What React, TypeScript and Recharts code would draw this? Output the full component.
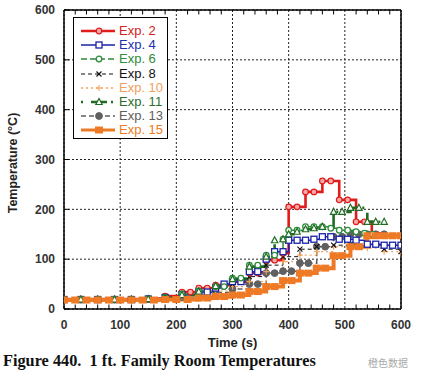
import { LineChart, Line, XAxis, YAxis, CartesianGrid, ReferenceLine, Legend } from 'recharts';

// step curves, time in s, temperature in °C
const exp2Time = [0, 30, 60, 90, 120, 150, 180, 210, 225, 240, 255, 270, 285, 300, 315, 330, 345, 360, 375, 390, 400, 415, 430, 445, 460, 475, 490, 505, 520, 535, 548, 560];
const exp2Temp = [20, 20, 20, 20, 20, 21, 26, 34, 34, 42, 42, 48, 48, 55, 55, 72, 72, 98, 98, 112, 205, 205, 235, 235, 257, 257, 219, 219, 175, 175, 148, 148];

const exp4Time = [0, 30, 60, 90, 120, 150, 180, 210, 240, 255, 270, 285, 300, 315, 330, 345, 360, 375, 390, 400, 415, 430, 445, 460, 475, 490, 505, 520, 540, 555, 570, 585, 600];
const exp4Temp = [19, 19, 19, 19, 19, 20, 23, 29, 34, 34, 42, 50, 55, 55, 75, 75, 100, 115, 115, 138, 138, 138, 140, 145, 145, 140, 140, 138, 130, 130, 128, 128, 128];

const exp6Time = [0, 30, 60, 90, 120, 150, 180, 210, 240, 270, 285, 300, 315, 330, 345, 360, 375, 390, 400, 415, 430, 445, 460, 475, 490, 505, 520, 535, 550];
const exp6Temp = [19, 19, 19, 19, 19, 20, 23, 30, 36, 45, 45, 62, 62, 88, 88, 108, 108, 140, 158, 158, 165, 165, 165, 162, 158, 158, 155, 152, 150];

const exp8Time = [0, 30, 60, 90, 120, 150, 180, 210, 240, 270, 300, 330, 360, 390, 420, 450, 480, 510, 540, 570, 600];
const exp8Temp = [19, 19, 19, 19, 19, 20, 22, 28, 33, 40, 50, 65, 88, 105, 120, 125, 128, 130, 128, 120, 115];

const exp10Time = [0, 30, 60, 90, 120, 150, 180, 210, 240, 270, 300, 330, 360, 390, 420, 450, 480, 510, 540, 570, 600];
const exp10Temp = [19, 19, 19, 19, 19, 20, 21, 25, 30, 36, 45, 55, 75, 95, 108, 115, 125, 125, 122, 115, 112];

const exp11Time = [0, 30, 60, 90, 120, 150, 180, 210, 240, 270, 300, 330, 360, 375, 390, 400, 415, 430, 445, 460, 480, 495, 510, 525, 540, 555, 570];
const exp11Temp = [19, 19, 19, 19, 19, 20, 22, 28, 35, 46, 60, 85, 105, 138, 140, 150, 155, 160, 162, 165, 195, 195, 203, 203, 175, 175, 175];

const exp13Time = [0, 30, 60, 90, 120, 150, 180, 210, 240, 270, 300, 330, 345, 360, 375, 390, 405, 420, 435, 450, 465, 480, 495, 510, 525, 540, 555, 570];
const exp13Temp = [19, 19, 19, 19, 19, 20, 21, 24, 28, 33, 40, 50, 50, 72, 72, 76, 76, 92, 92, 125, 125, 145, 145, 150, 150, 150, 150, 150];

const exp15Time = [0, 20, 40, 60, 80, 100, 120, 140, 160, 180, 200, 220, 240, 255, 270, 285, 300, 315, 330, 345, 360, 375, 390, 405, 420, 435, 450, 465, 480, 495, 510, 525, 540, 555, 570, 585, 600];
const exp15Temp = [18, 18, 18, 18, 18, 18, 18, 18, 18, 19, 19, 19, 22, 22, 25, 25, 28, 28, 35, 35, 45, 45, 57, 57, 72, 72, 82, 82, 107, 107, 125, 125, 147, 147, 147, 147, 147];

const xTicks = [0, 100, 200, 300, 400, 500, 600];
const yTicks = [0, 100, 200, 300, 400, 500, 600];
const minorXTicks = [20, 40, 60, 80, 120, 140, 160, 180, 220, 240, 260, 280, 320, 340, 360, 380, 420, 440, 460, 480, 520, 540, 560, 580];

const pts = (t: number[], v: number[]) => t.map((x, i) => ({ t: x, v: v[i] }));

type MarkerKind = 'circle' | 'square' | 'ring' | 'cross' | 'plus' | 'triangle' | 'dot' | 'block';

const series = [
  { name: 'Exp. 2', color: '#E01B1B', text: '#D42020', width: 2.6, dash: undefined, marker: 'circle' as MarkerKind, data: pts(exp2Time, exp2Temp) },
  { name: 'Exp. 4', color: '#1A22A8', text: '#2230B0', width: 1.5, dash: undefined, marker: 'square' as MarkerKind, data: pts(exp4Time, exp4Temp) },
  { name: 'Exp. 6', color: '#2E8B3A', text: '#2E8B3A', width: 1.5, dash: '6 3', marker: 'ring' as MarkerKind, data: pts(exp6Time, exp6Temp) },
  { name: 'Exp. 8', color: '#111111', text: '#111111', width: 1, dash: '4 3', marker: 'cross' as MarkerKind, data: pts(exp8Time, exp8Temp) },
  { name: 'Exp. 10', color: '#F2A55E', text: '#F0A060', width: 1.3, dash: '2 3', marker: 'plus' as MarkerKind, data: pts(exp10Time, exp10Temp) },
  { name: 'Exp. 11', color: '#1E6B22', text: '#2B6E2B', width: 2.6, dash: '2 8 16 4', marker: 'triangle' as MarkerKind, data: pts(exp11Time, exp11Temp) },
  { name: 'Exp. 13', color: '#606060', text: '#5E5E5E', width: 1.5, dash: '5 3', marker: 'dot' as MarkerKind, data: pts(exp13Time, exp13Temp) },
  { name: 'Exp. 15', color: '#EE7A26', text: '#EE7A26', width: 4, dash: undefined, marker: 'block' as MarkerKind, data: pts(exp15Time, exp15Temp) },
];

// draw order: red near the top, orange band over the baseline
const drawOrder = [6, 4, 3, 0, 1, 2, 5, 7];

function Marker({ kind, x, y, color }: { kind: MarkerKind; x: number; y: number; color: string }) {
  switch (kind) {
    case 'circle':
      return <circle cx={x} cy={y} r={2.8} fill="#F4A8A8" stroke={color} strokeWidth={1.2} />;
    case 'square':
      return <rect x={x - 3} y={y - 3} width={6} height={6} fill="#fff" stroke={color} strokeWidth={1.3} />;
    case 'ring':
      return <circle cx={x} cy={y} r={2.8} fill="#fff" stroke={color} strokeWidth={1.3} />;
    case 'cross':
      return (
        <g stroke={color} strokeWidth={1.1}>
          <line x1={x - 2.5} y1={y - 2.5} x2={x + 2.5} y2={y + 2.5} />
          <line x1={x - 2.5} y1={y + 2.5} x2={x + 2.5} y2={y - 2.5} />
        </g>
      );
    case 'plus':
      return (
        <g stroke={color} strokeWidth={1.1}>
          <line x1={x - 3} y1={y} x2={x + 3} y2={y} />
          <line x1={x} y1={y - 3} x2={x} y2={y + 3} />
        </g>
      );
    case 'triangle':
      return <polygon points={`${x},${y - 3.5} ${x + 3.2},${y + 2.5} ${x - 3.2},${y + 2.5}`} fill="#fff" stroke={color} strokeWidth={1.2} />;
    case 'dot':
      return <circle cx={x} cy={y} r={3.4} fill={color} stroke={color} />;
    case 'block':
      return <rect x={x - 4} y={y - 3.5} width={8} height={7} fill={color} />;
  }
  return null;
}

function LegendBox() {
  return (
    <div style={{ width: 95, height: 122, border: '1px solid #000', background: '#fff', boxSizing: 'border-box', paddingTop: 6 }}>
      {series.map((s) => (
        <div key={s.name} style={{ display: 'flex', alignItems: 'center', height: 14.2 }}>
          <svg width={38} height={12} style={{ marginLeft: 6, flex: 'none' }}>
            <line x1={1} y1={6} x2={35} y2={6} stroke={s.color} strokeWidth={Math.min(s.width, 3)} strokeDasharray={s.dash} />
            <Marker kind={s.marker} x={19} y={6} color={s.color} />
          </svg>
          <span style={{ color: s.text, fontSize: 13, lineHeight: '14px', marginLeft: 1, fontFamily: 'Liberation Sans, Arial, sans-serif' }}>{s.name}</span>
        </div>
      ))}
    </div>
  );
}

const axisFont = { fill: '#333', fontSize: 12, fontWeight: 'bold', fontFamily: 'Liberation Sans, Arial, sans-serif' };

export default function App() {
  return (
    <div style={{ position: 'absolute', left: 0, top: 0, width: 422, height: 374, background: '#fff' }}>
      <LineChart width={422} height={352} margin={{ top: 10, right: 21, left: 0, bottom: 0 }}>
        <CartesianGrid stroke="#222" strokeDasharray="2 2" strokeWidth={1} />
        <XAxis
          dataKey="t"
          type="number"
          domain={[0, 600]}
          ticks={xTicks}
          allowDataOverflow
          height={43}
          tickLine={false}
          tickSize={0}
          tickMargin={11}
          tick={axisFont}
          axisLine={{ stroke: '#000', strokeWidth: 1.5 }}
          label={{ value: 'Time (s)', position: 'insideBottom', offset: 5, style: { ...axisFont, fontSize: 13, fill: '#222' } }}
        />
        <YAxis
          type="number"
          domain={[0, 600]}
          ticks={yTicks}
          allowDataOverflow
          width={64}
          tickLine={false}
          tickSize={0}
          tickMargin={9}
          tick={axisFont}
          axisLine={{ stroke: '#000', strokeWidth: 1.5 }}
          label={() => (
            <text x={17} y={163} transform="rotate(-90 17 163)" textAnchor="middle" style={{ ...axisFont, fontSize: 12.5, fill: '#222' }}>
              Temperature (°C)
            </text>
          )}
        />
        <ReferenceLine x={600} stroke="#000" strokeWidth={1.5} />
        <ReferenceLine y={600} stroke="#000" strokeWidth={1.5} />
        {minorXTicks.map((m) => (
          <ReferenceLine key={`b${m}`} segment={[{ x: m, y: 0 }, { x: m, y: 9 }]} stroke="#000" strokeWidth={1} />
        ))}
        {minorXTicks.map((m) => (
          <ReferenceLine key={`t${m}`} segment={[{ x: m, y: 600 }, { x: m, y: 591 }]} stroke="#000" strokeWidth={1} />
        ))}
        {yTicks.map((m) => (
          <ReferenceLine key={`l${m}`} segment={[{ x: 0, y: m }, { x: 9, y: m }]} stroke="#000" strokeWidth={1} />
        ))}
        {drawOrder.map((i) => {
          const s = series[i];
          return (
            <Line
              key={s.name}
              data={s.data}
              dataKey="v"
              name={s.name}
              type="stepAfter"
              stroke={s.color}
              strokeWidth={s.width}
              strokeDasharray={s.dash}
              isAnimationActive={false}
              dot={(p: any) => <Marker key={`${s.name}-${p.index}`} kind={s.marker} x={p.cx} y={p.cy} color={s.color} />}
            />
          );
        })}
        <Legend
          layout="vertical"
          align="center"
          verticalAlign="middle"
          content={() => <LegendBox />}
          wrapperStyle={{ position: 'absolute', left: 73, top: 17, width: 95, height: 122 }}
        />
      </LineChart>
      <div style={{ position: 'absolute', left: 3, top: 351, fontFamily: 'Liberation Serif, Times New Roman, serif', fontWeight: 'bold', fontSize: 16.3, color: '#111', whiteSpace: 'pre' }}>
        {'Figure 440.  1 ft. Family Room Temperatures'}
      </div>
      <div style={{ position: 'absolute', left: 368, top: 355, fontFamily: 'Noto Sans CJK SC, sans-serif', fontSize: 10, color: '#aaa' }}>
        橙色数据
      </div>
    </div>
  );
}
